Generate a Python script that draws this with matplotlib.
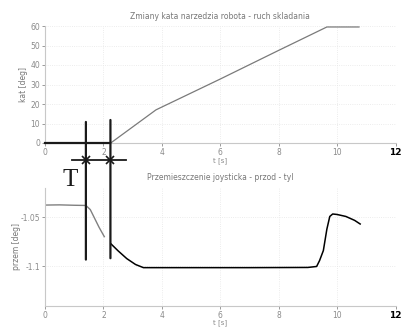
import matplotlib
matplotlib.use("Agg")
import matplotlib.pyplot as plt
import numpy as np
from matplotlib.patches import ConnectionPatch
from matplotlib.transforms import blended_transform_factory

# ---- data ----
t_top = [0.0, 2.25, 3.8, 6.0, 8.0, 9.65, 10.75]
angle_top = [0.0, 0.0, 17.0, 32.8, 47.5, 59.5, 59.5]

t_bot1 = [0.0, 0.5, 1.0, 1.4, 1.55, 1.7, 1.85, 2.03]
joy_bot1 = [-1.0374, -1.0372, -1.0376, -1.0378, -1.0420, -1.0510, -1.0600, -1.0696]
t_bot2 = [2.26, 2.5, 2.8, 3.1, 3.37, 5.0, 7.0, 9.0, 9.3, 9.4, 9.53, 9.65, 9.75, 9.85,
          10.0, 10.3, 10.6, 10.79]
joy_bot2 = [-1.0770, -1.0840, -1.0920, -1.0980, -1.1012, -1.1012, -1.1012, -1.1010,
            -1.1000, -1.0940, -1.0838, -1.0620, -1.0490, -1.0465, -1.0470, -1.0490,
            -1.0530, -1.0567]

xticks = [0, 2, 4, 6, 8, 10, 12]
yticks_top = [0, 10, 20, 30, 40, 50, 60]
yticks_bot = [-1.1, -1.05]
yticklabels_bot = ["-1.1", "-1.05"]

T_start, T_end = 1.4, 2.24

# ---- figure ----
W, H = 401, 329
fig = plt.figure(figsize=(W / 100, H / 100), dpi=100)
fig.patch.set_facecolor("white")

def fx(px):
    return px / W

def fy(py):
    return 1 - py / H

ax1 = fig.add_axes([fx(45), fy(143), fx(395.5) - fx(45), fy(26) - fy(143)])
ax2 = fig.add_axes([fx(45), fy(305.7), fx(395.5) - fx(45), fy(188) - fy(305.7)])

tick_col = "#8a8a8a"
for ax in (ax1, ax2):
    ax.set_xlim(0, 12)
    ax.set_xticks(xticks)
    ax.set_xticklabels([str(v) for v in xticks])
    for s in ("top", "right"):
        ax.spines[s].set_visible(False)
    for s in ("left", "bottom"):
        ax.spines[s].set_color("#c8c8c8")
        ax.spines[s].set_linewidth(0.8)
    ax.tick_params(labelsize=5.5, colors=tick_col, length=2, width=0.6, pad=1.5)
    ax.grid(True, color="#e6e6e6", linestyle=":", linewidth=0.6)
    lab = ax.get_xticklabels()[-1]
    lab.set_color("black")
    lab.set_fontweight("bold")
    lab.set_fontsize(6.5)

ax1.set_ylim(0, 60)
ax1.set_yticks(yticks_top)
ax1.plot(t_top, angle_top, color="#7a7a7a", lw=0.9, clip_on=False)
ax1.set_title("Zmiany kata narzedzia robota - ruch skladania", fontsize=5.5,
              color="#777777", pad=5)
ax1.set_ylabel("kat [deg]", fontsize=5.5, color="#777777", labelpad=2)
ax1.set_xlabel("t [s]", fontsize=5, color="#888888", labelpad=0.5)

ax2.set_ylim(-1.14, -1.02)
ax2.set_yticks(yticks_bot)
ax2.set_yticklabels(yticklabels_bot)
ax2.plot(t_bot1, joy_bot1, color="#808080", lw=1.0)
ax2.plot(t_bot2, joy_bot2, color="black", lw=1.1)
ax2.set_title("Przemieszczenie joysticka - przod - tyl", fontsize=5.5,
              color="#777777", pad=6)
ax2.set_ylabel("przem [deg]", fontsize=5.5, color="#777777", labelpad=0)
ax2.set_xlabel("t [s]", fontsize=5, color="#888888", labelpad=0)

# ---- hand-drawn annotations ----
ink = "#1a1a1a"
# thick line at y=0 before motion starts
ax1.plot([0, T_end], [0, 0], color=ink, lw=1.6, clip_on=False, zorder=5)
# vertical markers spanning both axes
for tx, ytop, ybot in ((T_start, 10.8, -1.093), (T_end, 11.8, -1.0916)):
    con = ConnectionPatch(xyA=(tx, ytop), coordsA=ax1.transData,
                          xyB=(tx, ybot), coordsB=ax2.transData,
                          color=ink, lw=1.6, zorder=6)
    fig.add_artist(con)

# dimension line with crossing arrow marks
bt = blended_transform_factory(ax1.transData, fig.transFigure)
y_dim = fy(160)
ax1.plot([0.92, 2.77], [y_dim, y_dim], color=ink, lw=1.3, transform=bt,
         clip_on=False, zorder=6)
ax1.plot([T_start, T_end], [y_dim, y_dim], linestyle="none", marker="x",
         markersize=6, mew=1.2, color=ink, transform=bt, clip_on=False, zorder=6)

fig.text(fx(70), fy(180), "T", fontsize=18, family="Liberation Serif",
         ha="center", va="center", color=ink)

fig.savefig("out.png", dpi=100, facecolor="white")
